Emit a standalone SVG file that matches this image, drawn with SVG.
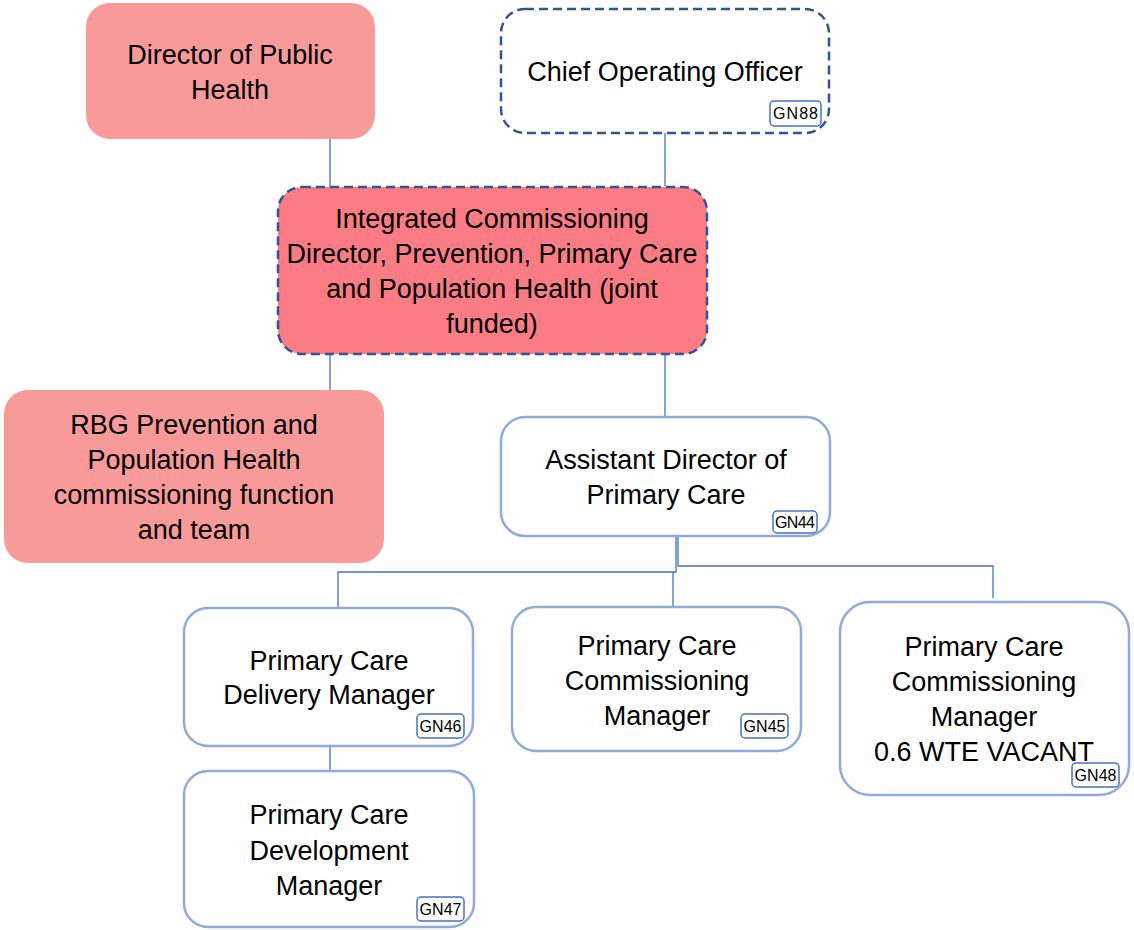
<svg xmlns="http://www.w3.org/2000/svg" width="1134" height="930" viewBox="0 0 1134 930">
<style>
text{font-family:"Liberation Sans",Arial,sans-serif;fill:#000;}
.t{font-size:27px;text-anchor:middle;}
.b{font-size:16px;text-anchor:middle;}
.light{fill:#F99A9A;stroke:none;}
.dark{fill:#FB7C84;stroke:#2F5597;stroke-width:2.5;stroke-dasharray:9 5;}
.dash{fill:#fff;stroke:#2F5597;stroke-width:2.5;stroke-dasharray:9 5;}
.box{fill:#fff;stroke:#8FAADC;stroke-width:2.5;}
.badge{fill:#fff;stroke:#4472C4;stroke-width:1.5;}
.c{fill:none;stroke:#4472C4;stroke-width:1.3;}
</style>
<g id="connectors">
<path class="c" d="M330 139V200"/>
<path class="c" d="M665 133V186"/>
<path class="c" d="M330 354V397"/>
<path class="c" d="M665 354V417"/>
<path class="c" d="M676 533V572H338V608"/>
<path class="c" d="M678 533V566H993V598"/>
<path class="c" d="M673 572V607"/>
<path class="c" d="M330 746V771"/>
</g>
<g id="dph">
<rect class="light" x="86" y="3" width="289" height="136" rx="24"/>
<text class="t" x="230" y="64">Director of Public</text>
<text class="t" x="230" y="99">Health</text>
</g>
<g id="coo">
<rect class="dash" x="501" y="9" width="328" height="124" rx="24"/>
<text class="t" x="665" y="81">Chief Operating Officer</text>
<rect class="badge" x="770" y="101" width="51" height="25" rx="4"/>
<text class="b" x="795.5" y="119" textLength="45">GN88</text>
</g>
<g id="icd">
<rect class="dark" x="278" y="187" width="429" height="167" rx="24"/>
<text class="t" x="492" y="228">Integrated Commissioning</text>
<text class="t" x="492" y="263">Director, Prevention, Primary Care</text>
<text class="t" x="492" y="298">and Population Health (joint</text>
<text class="t" x="492" y="333">funded)</text>
</g>
<g id="rbg">
<rect class="light" x="4" y="390" width="380" height="173" rx="24"/>
<text class="t" x="194" y="434">RBG Prevention and</text>
<text class="t" x="194" y="469">Population Health</text>
<text class="t" x="194" y="504">commissioning function</text>
<text class="t" x="194" y="539">and team</text>
</g>
<g id="ad">
<rect class="box" x="501" y="417" width="329" height="119" rx="24"/>
<text class="t" x="666" y="469">Assistant Director of</text>
<text class="t" x="666" y="504">Primary Care</text>
<rect class="badge" x="773" y="511" width="44" height="22" rx="4"/>
<text class="b" x="795" y="528" textLength="40">GN44</text>
</g>
<g id="pcdm">
<rect class="box" x="184" y="608" width="289" height="138" rx="24"/>
<text class="t" x="329" y="670">Primary Care</text>
<text class="t" x="329" y="704">Delivery Manager</text>
<rect class="badge" x="417" y="714" width="47" height="24" rx="4"/>
<text class="b" x="440.5" y="732" textLength="42">GN46</text>
</g>
<g id="pcdev">
<rect class="box" x="184" y="771" width="290" height="156" rx="24"/>
<text class="t" x="329" y="824">Primary Care</text>
<text class="t" x="329" y="860">Development</text>
<text class="t" x="329" y="895">Manager</text>
<rect class="badge" x="417" y="897" width="47" height="24" rx="4"/>
<text class="b" x="440.5" y="915" textLength="42">GN47</text>
</g>
<g id="pccm">
<rect class="box" x="512" y="607" width="289" height="144" rx="24"/>
<text class="t" x="657" y="655">Primary Care</text>
<text class="t" x="657" y="690">Commissioning</text>
<text class="t" x="657" y="725">Manager</text>
<rect class="badge" x="741" y="714" width="47" height="24" rx="4"/>
<text class="b" x="764.5" y="732" textLength="42">GN45</text>
</g>
<g id="pccm2">
<rect class="box" x="840" y="602" width="289" height="193" rx="30"/>
<text class="t" x="984" y="656">Primary Care</text>
<text class="t" x="984" y="691">Commissioning</text>
<text class="t" x="984" y="726">Manager</text>
<text class="t" x="984" y="761">0.6 WTE VACANT</text>
<rect class="badge" x="1072" y="763" width="47" height="24" rx="4"/>
<text class="b" x="1095.5" y="781" textLength="42">GN48</text>
</g>
</svg>
